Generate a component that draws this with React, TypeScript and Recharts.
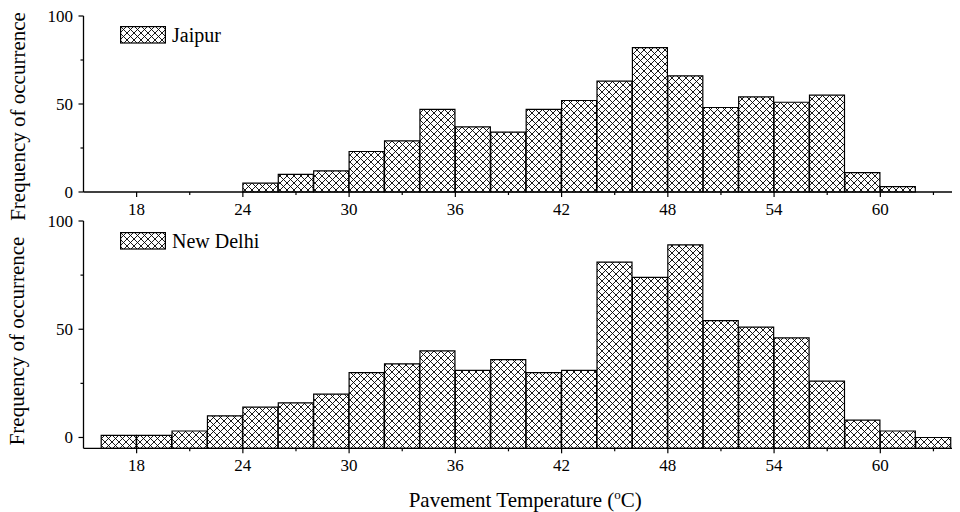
import React from 'react';
import { BarChart, Bar, XAxis, YAxis, Legend } from 'recharts';

// Bin centres (°C); each bin is 2 °C wide, from 16 to 64
const binCenters = [17, 19, 21, 23, 25, 27, 29, 31, 33, 35, 37, 39, 41, 43, 45, 47, 49, 51, 53, 55, 57, 59, 61, 63];
const jaipurFreq = [0, 0, 0, 0, 5, 10, 12, 23, 29, 47, 37, 34, 47, 52, 63, 82, 66, 48, 54, 51, 55, 11, 3, 0];
const delhiFreq = [1, 1, 3, 10, 14, 16, 20, 30, 34, 40, 31, 36, 30, 31, 81, 74, 89, 54, 51, 46, 26, 8, 3, 0];

const xDomain = [15, 64.5];
const xTicks = [18, 21, 24, 27, 30, 33, 36, 39, 42, 45, 48, 51, 54, 57, 60, 63];
const xMajorTicks = [18, 24, 30, 36, 42, 48, 54, 60];
const yTicks = [0, 25, 50, 75, 100];
const yMajorTicks = [0, 50, 100];
const jaipurYDomain = [0, 100];
const delhiYDomain = [-5, 100];

const jaipurData = binCenters.map((t, i) => ({ t, v: jaipurFreq[i] }));
const delhiData = binCenters.map((t, i) => ({ t, v: delhiFreq[i] }));

const FONT = '"Liberation Serif", "Times New Roman", Times, serif';
const TICK_FS = 17;
const TITLE_FS = 21;

const XTick = (props: any) => {
  const { x, y, payload } = props;
  const major = xMajorTicks.includes(payload.value);
  return (
    <g>
      <line x1={x} x2={x} y1={y} y2={y + (major ? 5 : 3)} stroke="#000" strokeWidth={1.2} />
      {major && (
        <text x={x} y={y + 23} textAnchor="middle" fontSize={TICK_FS} fontFamily={FONT} fill="#000">
          {payload.value}
        </text>
      )}
    </g>
  );
};

const TopTick = (props: any) => {
  const { x, y } = props;
  return <line x1={x} x2={x} y1={y} y2={y + 3} stroke="#000" strokeWidth={1.2} />;
};

const YTick = (props: any) => {
  const { x, y, payload } = props;
  const major = yMajorTicks.includes(payload.value);
  return (
    <g>
      <line x1={x - (major ? 5 : 3)} x2={x} y1={y} y2={y} stroke="#000" strokeWidth={1.2} />
      {major && (
        <text x={x - 10.5} y={y + 6} textAnchor="end" fontSize={TICK_FS} fontFamily={FONT} fill="#000">
          {payload.value}
        </text>
      )}
    </g>
  );
};

const yTitle = (dy: number) => (props: any) => {
  const vb = props.viewBox;
  const cx = vb.x + 24.5;
  const cy = vb.y + vb.height / 2 + dy;
  return (
    <text
      x={cx}
      y={cy}
      transform={`rotate(-90 ${cx} ${cy})`}
      textAnchor="middle"
      fontSize={TITLE_FS}
      fontFamily={FONT}
      fill="#000"
    >
      Frequency of occurrence
    </text>
  );
};

const xTitle = (props: any) => {
  const vb = props.viewBox;
  const cx = vb.x + vb.width / 2 + 3.5;
  const cy = vb.y + 58.4;
  return (
    <text x={cx} y={cy} textAnchor="middle" fontSize={TITLE_FS} fontFamily={FONT} fill="#000">
      <tspan>Pavement Temperature (</tspan>
      <tspan dy={-8} fontSize={13}>o</tspan>
      <tspan dy={8}>C)</tspan>
    </text>
  );
};

const legendContent = (name: string) => () => (
  <div style={{ display: 'flex', alignItems: 'center', fontFamily: FONT, fontSize: 20, color: '#000', whiteSpace: 'nowrap' }}>
    <svg width={46} height={18} style={{ display: 'block' }}>
      <rect x={0.6} y={0.6} width={44.8} height={16.4} fill="url(#xhatch)" stroke="#000" strokeWidth={1.2} />
    </svg>
    <span style={{ marginLeft: 6, lineHeight: '18px' }}>{name}</span>
  </div>
);

const axisLine = { stroke: '#000', strokeWidth: 1.3 };

export default function App() {
  return (
    <div style={{ position: 'relative', width: 960, height: 504, marginLeft: -8, fontFamily: FONT }}>
      <svg width={0} height={0} style={{ position: 'absolute' }}>
        <defs>
          <pattern id="xhatch" patternUnits="userSpaceOnUse" width={7} height={7}>
            <rect x={0} y={0} width={7} height={7} fill="#fff" />
            <path d="M0,0L7,7M7,0L0,7M-1,6L1,8M6,-1L8,1M-1,1L1,-1M6,8L8,6" stroke="#000" strokeWidth={0.9} />
          </pattern>
        </defs>
      </svg>

      <div style={{ position: 'absolute', left: 0, top: 0 }}>
        <BarChart
          width={960}
          height={240}
          data={jaipurData}
          margin={{ top: 8, right: 0, bottom: 26, left: 0 }}
          barCategoryGap={0}
          barGap={0}
        >
          <XAxis
            xAxisId="b"
            type="number"
            dataKey="t"
            domain={xDomain}
            ticks={xTicks}
            interval={0}
            tickSize={0}
            tickMargin={0}
            tick={XTick}
            tickLine={false}
            axisLine={axisLine}
            height={30}
          />
          <XAxis
            xAxisId="t"
            orientation="top"
            type="number"
            dataKey="t"
            domain={xDomain}
            ticks={xTicks}
            interval={0}
            tickSize={0}
            tickMargin={0}
            tick={TopTick}
            tickLine={false}
            axisLine={axisLine}
            height={0}
          />
          <YAxis
            type="number"
            domain={jaipurYDomain}
            ticks={yTicks}
            interval={0}
            tickSize={0}
            tickMargin={0}
            tick={YTick}
            tickLine={false}
            axisLine={axisLine}
            width={83.5}
            label={yTitle(12.5)}
          />
          <Legend
            layout="vertical"
            align="center"
            verticalAlign="middle"
            wrapperStyle={{ top: 18.2, left: 120, width: 'auto', height: 'auto' }}
            content={legendContent('Jaipur')}
          />
          <Bar
            xAxisId="b"
            dataKey="v"
            name="Jaipur"
            fill="url(#xhatch)"
            stroke="#000"
            strokeWidth={1.2}
            isAnimationActive={false}
          />
        </BarChart>
      </div>

      <div style={{ position: 'absolute', left: 0, top: 0 }}>
        <BarChart
          width={960}
          height={504}
          data={delhiData}
          margin={{ top: 213, right: 0, bottom: 0, left: 0 }}
          barCategoryGap={0}
          barGap={0}
        >
          <XAxis
            xAxisId="b"
            type="number"
            dataKey="t"
            domain={xDomain}
            ticks={xTicks}
            interval={0}
            tickSize={0}
            tickMargin={0}
            tick={XTick}
            tickLine={false}
            axisLine={axisLine}
            height={63.7}
            label={xTitle}
          />
          <XAxis
            xAxisId="t"
            orientation="top"
            type="number"
            dataKey="t"
            domain={xDomain}
            ticks={xTicks}
            interval={0}
            tickSize={0}
            tickMargin={0}
            tick={TopTick}
            tickLine={false}
            axisLine={axisLine}
            height={0}
          />
          <YAxis
            type="number"
            domain={delhiYDomain}
            allowDataOverflow
            ticks={yTicks}
            interval={0}
            tickSize={0}
            tickMargin={0}
            tick={YTick}
            tickLine={false}
            axisLine={axisLine}
            width={83.5}
            label={yTitle(6.3)}
          />
          <Legend
            layout="vertical"
            align="center"
            verticalAlign="middle"
            wrapperStyle={{ top: 224.2, left: 120, width: 'auto', height: 'auto' }}
            content={legendContent('New Delhi')}
          />
          <Bar
            xAxisId="b"
            dataKey={(d: any) => [delhiYDomain[0], d.v]}
            name="New Delhi"
            fill="url(#xhatch)"
            stroke="#000"
            strokeWidth={1.2}
            isAnimationActive={false}
          />
        </BarChart>
      </div>
    </div>
  );
}
